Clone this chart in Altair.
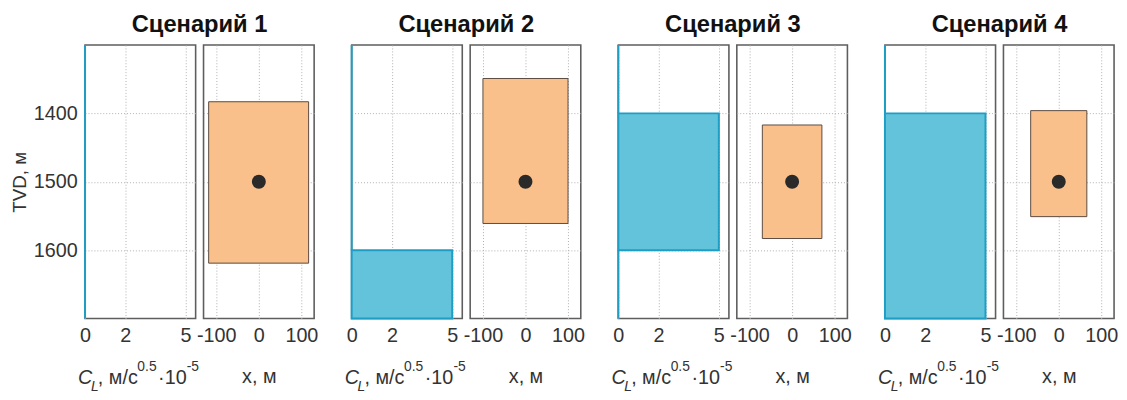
import altair as alt
import pandas as pd

scenarios = ["Сценарий 1", "Сценарий 2", "Сценарий 3", "Сценарий 4"]

# C_L step profiles (blue), one row per depth segment
seg_scenario = [1, 2, 2, 3, 3, 3, 4, 4]
seg_top = [1300, 1300, 1600, 1300, 1400, 1600, 1300, 1400]
seg_bottom = [1700, 1600, 1700, 1400, 1600, 1700, 1400, 1700]
seg_cl = [0, 0, 5, 0, 5, 0, 0, 5]

# orange zones in x / depth
zone_xmin = [-118, -100, -70, -66]
zone_xmax = [117, 100, 70, 66]
zone_top = [1383, 1349, 1417, 1396]
zone_bottom = [1619, 1561, 1583, 1551]

# source point
point_x = [0, 0, 0, 0]
point_depth = [1500, 1500, 1500, 1500]

y_ticks = [1400, 1500, 1600]
cl_ticks = [0, 2, 5]
x_ticks = [-100, 0, 100]

FONT = "Liberation Sans, Arial, sans-serif"
W, H = 112, 277

seg = pd.DataFrame({"s": seg_scenario, "top": seg_top, "bottom": seg_bottom, "cl": seg_cl})
YS = alt.Scale(domain=[1300, 1700], reverse=True, nice=False, zero=False)
PLAIN = "'' + datum.value"


def y_enc(field, first):
    if first:
        ax = alt.Axis(values=y_ticks, labelExpr=PLAIN, title="TVD, м", titleFontSize=19,
                      titlePadding=4, labelPadding=8)
    else:
        ax = alt.Axis(values=y_ticks, labels=False, title=None)
    return alt.Y(field, type="quantitative", scale=YS, axis=ax)


def text_piece(txt, x, y, size, italic=False, bold=False, align="left", color="#333"):
    return alt.Chart(pd.DataFrame({"a": [0]})).mark_text(
        text=txt, align=align, baseline="alphabetic", font=FONT, fontSize=size,
        fontStyle="italic" if italic else "normal",
        fontWeight="bold" if bold else "normal", color=color
    ).encode(x=alt.value(x), y=alt.value(y))


def left_panel(i):
    d = seg[seg["s"] == i + 1]
    base = alt.Chart(d).mark_rect(fill="#63C3DB", stroke="#1E9EC5", strokeWidth=2).encode(
        x=alt.X("cl:Q", scale=alt.Scale(domain=[0, 5.5], nice=False),
                axis=alt.Axis(values=cl_ticks, labelExpr=PLAIN, title=None)),
        x2=alt.X2(datum=0),
        y=y_enc("top", i == 0),
        y2="bottom:Q",
    )
    by = 343
    pieces = [
        text_piece(scenarios[i], W + 4, -13, 24, bold=True, align="center", color="#111"),
        text_piece("C", -7, by, 20, italic=True),
        text_piece("L", 6, by + 7, 14, italic=True),
        text_piece(", м/с", 13, by, 20),
        text_piece("0.5", 53, by - 13, 14),
        text_piece("·10", 74, by, 20),
        text_piece("-5", 103, by - 13, 14),
    ]
    return alt.layer(base, *pieces).properties(width=W, height=H)


def right_panel(i):
    z = pd.DataFrame({"xmin": [zone_xmin[i]], "xmax": [zone_xmax[i]],
                      "top": [zone_top[i]], "bottom": [zone_bottom[i]]})
    p = pd.DataFrame({"x": [point_x[i]], "d": [point_depth[i]]})
    xs = alt.Scale(domain=[-130, 130], nice=False)
    rect = alt.Chart(z).mark_rect(fill="#F9C08B", stroke="#5a4a40", strokeWidth=1).encode(
        x=alt.X("xmin:Q", scale=xs,
                axis=alt.Axis(values=x_ticks, labelExpr=PLAIN, title="x, м", titlePadding=22)),
        x2="xmax:Q",
        y=y_enc("top", False),
        y2="bottom:Q",
    )
    pt = alt.Chart(p).mark_circle(size=200, color="#2a2a2a", opacity=1).encode(
        x=alt.X("x:Q", scale=xs),
        y=alt.Y("d:Q", scale=YS),
    )
    return alt.layer(rect, pt).properties(width=W, height=H)


def spacer():
    return alt.Chart(pd.DataFrame({"a": [0]})).mark_point(opacity=0).encode(
        x=alt.value(0), y=alt.value(0)
    ).properties(width=22, height=H, view=alt.ViewBackground(stroke="transparent"))


items = []
for i in range(len(scenarios)):
    if i > 0:
        items.append(spacer())
    items.append(left_panel(i))
    items.append(right_panel(i))

chart = alt.hconcat(*items, spacing=8, bounds="flush").resolve_scale(
    x="independent", y="independent"
).properties(padding={"left": 1, "top": 2, "right": 0, "bottom": 0}).configure_view(
    stroke="#5e5e5e", strokeWidth=1.6
).configure_axis(
    domain=False, ticks=False, grid=True, gridColor="#b0b0b0", gridDash=[1, 2],
    gridWidth=1, labelFont=FONT, labelFontSize=20, labelColor="#333",
    labelFlush=False, labelPadding=7, titleFont=FONT, titleFontSize=20,
    titleFontWeight="normal", titleColor="#333", titlePadding=9, zindex=1
)

chart.save("out.html", embed_options={"renderer": "svg", "actions": False})
